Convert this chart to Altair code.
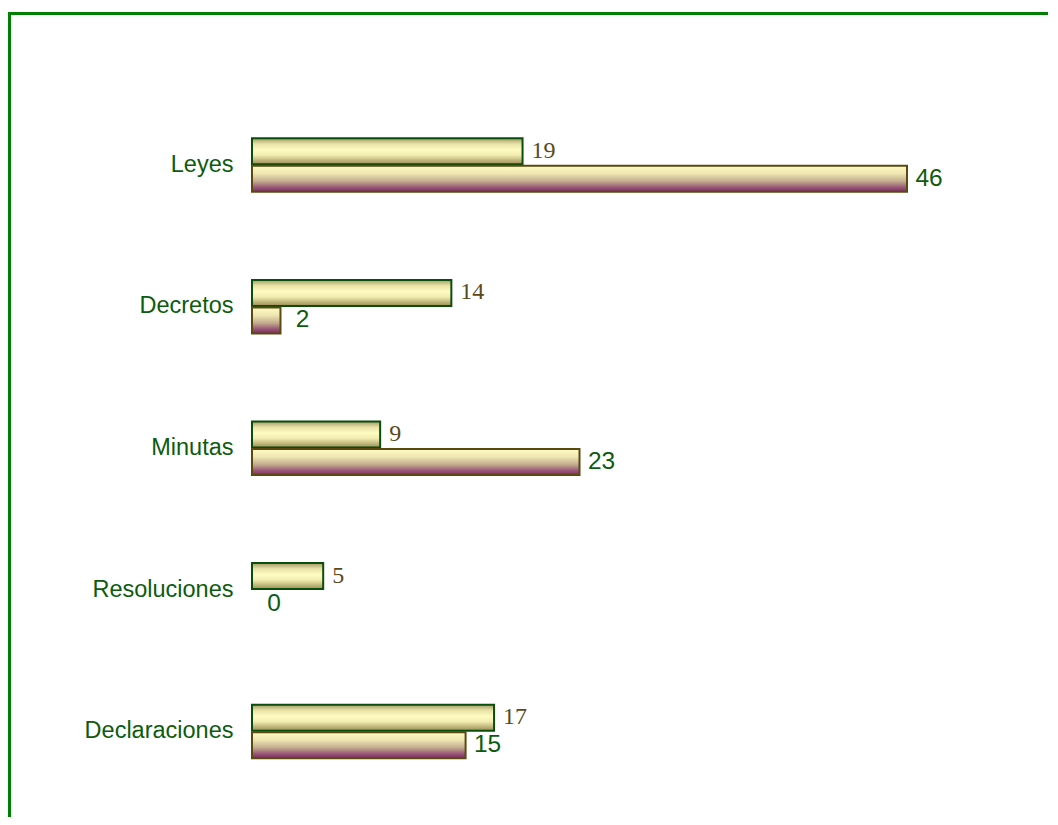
import altair as alt
import pandas as pd

categories = ["Leyes", "Decretos", "Minutas", "Resoluciones", "Declaraciones"]
serie1 = [19, 14, 9, 5, 17]
serie2 = [46, 2, 23, 0, 15]

df = pd.DataFrame({"cat": categories, "s1": serie1, "s2": serie2})

GREEN = "#008000"
LABEL_GREEN = "#0d5c0d"
BROWN = "#5a4a1c"

grad1 = alt.Gradient(
    gradient="linear",
    stops=[
        alt.GradientStop(color="#a39a66", offset=0),
        alt.GradientStop(color="#e8e2a6", offset=0.22),
        alt.GradientStop(color="#fffcc2", offset=0.45),
        alt.GradientStop(color="#f2ecb0", offset=0.65),
        alt.GradientStop(color="#9a8d55", offset=1),
    ],
    x1=0, x2=0, y1=0, y2=1,
)
grad2 = alt.Gradient(
    gradient="linear",
    stops=[
        alt.GradientStop(color="#fffbc4", offset=0),
        alt.GradientStop(color="#efe6b2", offset=0.3),
        alt.GradientStop(color="#c2ab8e", offset=0.6),
        alt.GradientStop(color="#9a5a78", offset=0.82),
        alt.GradientStop(color="#7e2a62", offset=1),
    ],
    x1=0, x2=0, y1=0, y2=1,
)

base = alt.Chart(df)

yenc = alt.Y(
    "cat:N",
    sort=categories,
    title=None,
    scale=alt.Scale(paddingInner=0, paddingOuter=0),
    axis=alt.Axis(
        domain=False, ticks=False, grid=False, labelPadding=19,
        labelFontSize=23.5, labelFont="Liberation Sans", labelColor=LABEL_GREEN,
    ),
)
xscale = alt.Scale(domain=[0, 46], nice=False, zero=True)

bar1 = base.mark_bar(
    size=26, yOffset=-13.5, fill=grad1, stroke="#0b4d0b", strokeWidth=2
).encode(x=alt.X("s1:Q", scale=xscale, axis=None), y=yenc)

bar2 = base.transform_filter("datum.s2 > 0").mark_bar(
    size=26, yOffset=14, fill=grad2, stroke="#5a4a10", strokeWidth=2
).encode(x=alt.X("s2:Q", scale=xscale, axis=None), y=yenc)

txt1 = base.mark_text(
    align="left", baseline="middle", dx=9, dy=-14,
    font="Liberation Serif", fontSize=24, color=BROWN,
).encode(x=alt.X("s1:Q", scale=xscale, axis=None), y=yenc, text="s1:Q")

txt2 = base.mark_text(
    align="center", baseline="middle", dx=22, dy=14,
    font="Liberation Sans", fontSize=24.5, color=LABEL_GREEN,
).encode(x=alt.X("s2:Q", scale=xscale, axis=None), y=yenc, text="s2:Q")

frame_src = alt.Chart(alt.Data(values=[{"a": 1}]))
top_line = frame_src.mark_rule(color=GREEN, strokeWidth=3).encode(
    x=alt.value(-244), x2=alt.value(900), y=alt.value(-80.5)
)
left_line = frame_src.mark_rule(color=GREEN, strokeWidth=3).encode(
    x=alt.value(-242.5), y=alt.value(-82), y2=alt.value(800)
)

chart = alt.layer(top_line, left_line, bar1, bar2, txt1, txt2).properties(
    width=655,
    height=708,
    background="white",
    autosize=alt.AutoSizeParams(type="none"),
    padding={"left": 244, "top": 86, "right": 141, "bottom": 15},
).configure_view(stroke=None, strokeWidth=0)

chart.save("out.html", embed_options={"renderer": "svg", "actions": False})
